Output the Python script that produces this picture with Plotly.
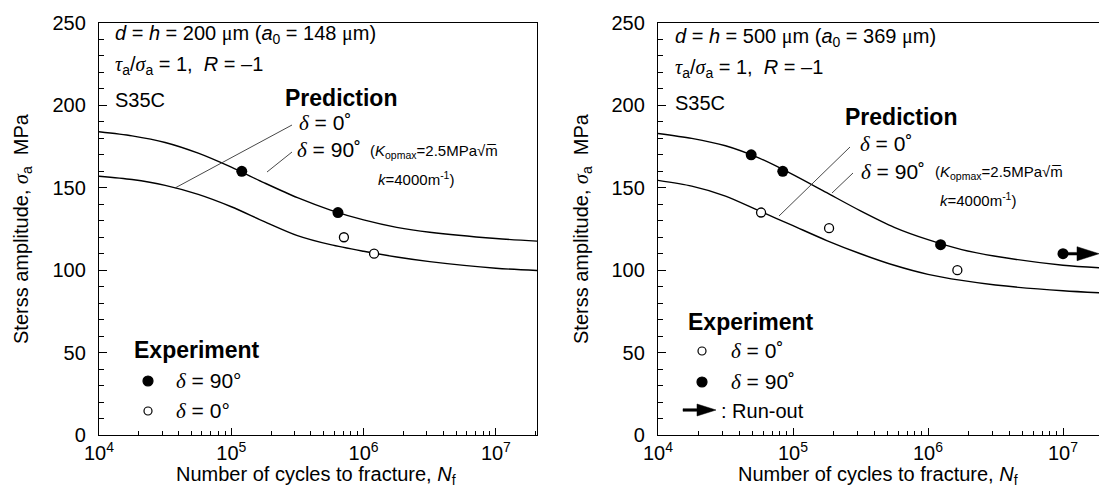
import numpy as np
import plotly.graph_objects as go

# ---------------- data ----------------
# prediction curves: log10(N) grid and stress amplitude (MPa)
L_curve_logN = [4.0, 4.25, 4.5, 4.75, 5.0, 5.25, 5.5, 5.75, 6.0, 6.25, 6.5, 7.0, 7.32]
L_pred90 = [184.0, 181.5, 177.5, 171.0, 162.5, 153.0, 144.0, 136.5, 130.5, 126.0, 123.0, 119.2, 117.6]
L_pred0 = [157.0, 155.0, 151.5, 146.0, 138.5, 129.5, 121.0, 115.5, 111.5, 108.0, 105.2, 101.2, 99.8]

R_curve_logN = [4.0, 4.25, 4.5, 4.75, 5.0, 5.25, 5.5, 5.75, 6.0, 6.25, 6.5, 7.0, 7.27]
R_pred90 = [183.0, 180.0, 175.5, 168.0, 158.0, 147.0, 136.0, 126.0, 118.5, 112.5, 108.5, 103.0, 101.5]
R_pred0 = [154.5, 151.0, 145.0, 136.0, 127.0, 118.0, 110.0, 103.0, 97.5, 93.8, 91.0, 87.5, 86.3]

# experiments
L_exp90_N = [1.2e5, 6.4e5]
L_exp90_S = [160, 135]
L_exp0_N = [7.1e5, 1.2e6]
L_exp0_S = [120, 110]

R_exp90_N = [4.9e4, 8.4e4, 1.24e6]
R_exp90_S = [170, 160, 115.5]
R_exp0_N = [5.8e4, 1.85e5, 1.65e6]
R_exp0_S = [135, 125.5, 100]
R_runout_N = [1.0e7]
R_runout_S = [110]

x_tickvals = [1e4, 1e5, 1e6, 1e7]
x_ticktext = ["10<sup>4</sup>", "10<sup>5</sup>", "10<sup>6</sup>", "10<sup>7</sup>"]
y_tickvals = [0, 50, 100, 150, 200, 250]

# ---------------- layout geometry ----------------
W, H = 1099, 493
ML, MR, MT, MB = 99, 0, 23, 58
PW, PH = W - ML - MR, H - MT - MB


def PX(x):
    return (x - ML) / PW


def PY(y):
    return (H - MB - y) / PH


FONT = "Liberation Sans"
SERIF = "Liberation Serif"
D = "<span style='font-family:%s'><i>δ</i></span>" % SERIF

fig = go.Figure()

line_style = dict(color="black", width=1.4, shape="spline", smoothing=0.8)

# left panel curves
fig.add_trace(go.Scatter(x=[10 ** v for v in L_curve_logN], y=L_pred90, mode="lines",
                         line=line_style, xaxis="x", yaxis="y"))
fig.add_trace(go.Scatter(x=[10 ** v for v in L_curve_logN], y=L_pred0, mode="lines",
                         line=line_style, xaxis="x", yaxis="y"))
# right panel curves
fig.add_trace(go.Scatter(x=[10 ** v for v in R_curve_logN], y=R_pred90, mode="lines",
                         line=line_style, xaxis="x2", yaxis="y2"))
fig.add_trace(go.Scatter(x=[10 ** v for v in R_curve_logN], y=R_pred0, mode="lines",
                         line=line_style, xaxis="x2", yaxis="y2"))

filled = dict(symbol="circle", size=11, color="black", line=dict(color="black", width=0))
opened = dict(symbol="circle", size=9, color="white", line=dict(color="black", width=1.3))

fig.add_trace(go.Scatter(x=L_exp90_N, y=L_exp90_S, mode="markers", marker=filled, xaxis="x", yaxis="y"))
fig.add_trace(go.Scatter(x=L_exp0_N, y=L_exp0_S, mode="markers", marker=opened, xaxis="x", yaxis="y"))
fig.add_trace(go.Scatter(x=R_exp90_N, y=R_exp90_S, mode="markers", marker=filled, xaxis="x2", yaxis="y2"))
fig.add_trace(go.Scatter(x=R_exp0_N, y=R_exp0_S, mode="markers", marker=opened, xaxis="x2", yaxis="y2"))
fig.add_trace(go.Scatter(x=R_runout_N, y=R_runout_S, mode="markers", marker=filled, xaxis="x2", yaxis="y2"))

minor_vals = [m * 10 ** e for e in range(4, 8) for m in range(2, 10)]

xaxis_common = dict(type="log", showline=True, linecolor="black", linewidth=1.3, mirror=True,
                    ticks="inside", ticklen=7, tickwidth=1, tickcolor="black",
                    tickvals=x_tickvals, ticktext=x_ticktext, showgrid=False, zeroline=False,
                    tickfont=dict(family=FONT, size=20, color="black"),
                    minor=dict(tickvals=minor_vals, ticks="inside", ticklen=4, tickcolor="black"))
yaxis_common = dict(range=[0, 250], showline=True, linecolor="black", linewidth=1.3, mirror=True,
                    ticks="inside", ticklen=8, tickwidth=1, tickcolor="black",
                    tickvals=y_tickvals, showgrid=False, zeroline=False,
                    tickfont=dict(family=FONT, size=20, color="black"),
                    ticklabelstandoff=8,
                    minor=dict(dtick=10, ticks="inside", ticklen=5, tickcolor="black"),
                    domain=[0, 1])

xa1 = dict(xaxis_common); xa1.update(domain=[0, PX(537)], range=[4, 4 + 438 / 132.3], anchor="y")
xa2 = dict(xaxis_common); xa2.update(domain=[PX(658), 1], range=[4, 4 + 441 / 135.0], anchor="y2")
ya1 = dict(yaxis_common); ya1.update(anchor="x")
ya2 = dict(yaxis_common); ya2.update(anchor="x2")

annotations = []


def T(text, x, y, size=20, xanchor="left", bold=False, angle=0):
    if bold:
        text = "<b>" + text + "</b>"
    annotations.append(dict(text=text, x=PX(x), y=PY(y), xref="paper", yref="paper",
                            xanchor=xanchor, yanchor="middle", showarrow=False, textangle=angle,
                            font=dict(family=FONT, size=size, color="black")))


MU = "<span style='font-family:%s'>μ</span>" % SERIF
TAU = "<span style='font-family:%s'><i>τ</i></span>" % SERIF
SIG = "<span style='font-family:%s'><i>σ</i></span>" % SERIF
NB = "\u00a0"

for off, dd, a0, dy in [(0, 200, 148, 0), (560, 500, 369, 3)]:
    x0 = 113 + off
    T("<i>d</i> = <i>h</i> = %d %sm (<i>a</i><sub>0</sub> = %d %sm)" % (dd, MU, a0, MU), x0, 35 + dy)
    T("%s<sub>a</sub>/%s<sub>a</sub> = 1," % (TAU, SIG) + NB * 2 + "<i>R</i> = –1", x0, 66 + dy)
    T("S35C", x0, 100 + dy)

# axis titles
for xc in (22, 582):
    T("Sterss amplitude, %s<sub>a</sub>%sMPa" % (SIG, NB * 2), xc, 229, xanchor="center", angle=-90)
T("Number of cycles to fracture, <i>N</i><sub>f</sub>", 316, 475, xanchor="center")
T("Number of cycles to fracture, <i>N</i><sub>f</sub>", 878, 475, xanchor="center")

# prediction labels
SMALL = 15
K = "(<i>K</i><sub>opmax</sub>=2.5MPa√m\u0305"
KK = "<i>k</i>=4000m<sup>-1</sup>)"
T("Prediction", 283, 98, size=23, bold=True)
T(D + " = 0˚", 297, 123, size=21)
T(D + " = 90˚", 295, 150, size=21)
T(K, 368, 151, size=SMALL)
T(KK, 376, 178, size=SMALL)

T("Prediction", 843, 117, size=23, bold=True)
T(D + " = 0˚", 858, 144, size=21)
T(D + " = 90˚", 859, 172, size=21)
T(K, 933, 173, size=SMALL)
T(KK, 938, 199, size=SMALL)

# experiment legends
T("Experiment", 132, 350, size=23, bold=True)
T(D + " = 90°", 174, 381, size=21)
T(D + " = 0°", 174, 411, size=21)

T("Experiment", 686, 322, size=23, bold=True)
T(D + " = 0˚", 729, 351, size=21)
T(D + " = 90˚", 729, 382, size=21)
T(": Run-out", 719, 411, size=20)

shapes = []


def leader(x0, y0, x1, y1):
    shapes.append(dict(type="line", xref="paper", yref="paper", x0=PX(x0), y0=PY(y0),
                       x1=PX(x1), y1=PY(y1), line=dict(color="#333", width=0.9)))


leader(175, 188, 292, 125)
leader(267, 172, 292, 152)
leader(779, 216, 850, 147)
leader(832, 193, 853, 173)


def dot(xc, yc, r, fill):
    shapes.append(dict(type="circle", xref="paper", yref="paper", xsizemode="pixel", ysizemode="pixel",
                       xanchor=PX(xc), yanchor=PY(yc), x0=-r, x1=r, y0=-r, y1=r,
                       fillcolor=fill, line=dict(color="black", width=1.2)))


dot(148, 381, 5, "black")
dot(148, 411, 4, "white")
dot(702, 351, 4, "white")
dot(702, 382, 5, "black")

# legend run-out arrow
shapes.append(dict(type="path", xref="paper", yref="paper", xsizemode="pixel", ysizemode="pixel",
                   xanchor=PX(683), yanchor=PY(410),
                   path="M 0,-1.3 L 14,-1.3 L 14,-6 L 33,0 L 14,6 L 14,1.3 L 0,1.3 Z",
                   fillcolor="black", line=dict(color="black", width=0.5)))

# run-out arrow attached to the run-out data point
shapes.append(dict(type="path", xref="x2", yref="y2", xsizemode="pixel", ysizemode="pixel",
                   xanchor=R_runout_N[0], yanchor=R_runout_S[0],
                   path="M 0,-1.3 L 14,-1.3 L 14,-7 L 36,0 L 14,7 L 14,1.3 L 0,1.3 Z",
                   fillcolor="black", line=dict(color="black", width=0.5)))

fig.update_layout(
    width=W, height=H,
    margin=dict(l=ML, r=MR, t=MT, b=MB, pad=0),
    paper_bgcolor="white", plot_bgcolor="white",
    showlegend=False,
    xaxis=xa1, yaxis=ya1, xaxis2=xa2, yaxis2=ya2,
    annotations=annotations, shapes=shapes,
    font=dict(family=FONT, color="black"),
)

fig.write_html("out.html")
